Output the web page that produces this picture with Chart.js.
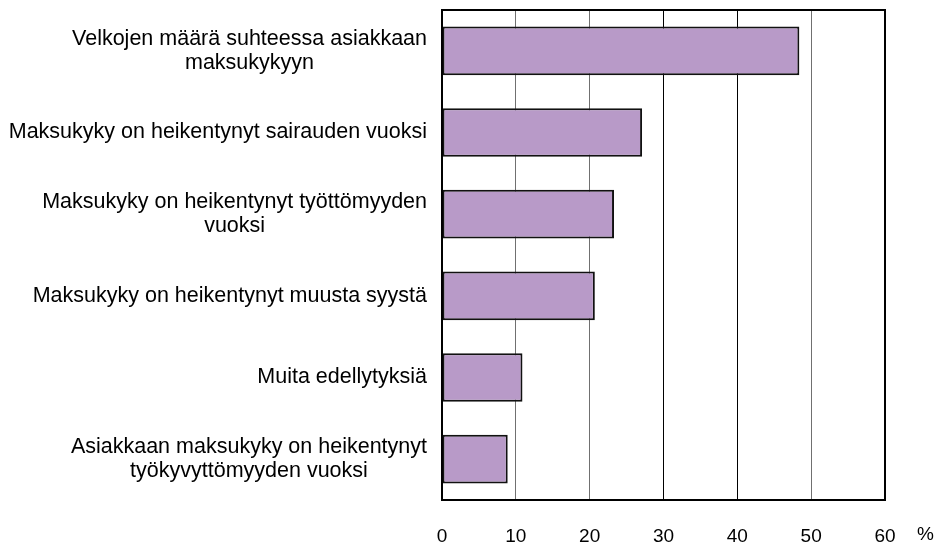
<!DOCTYPE html>
<html>
<head>
<meta charset="utf-8">
<script src="https://cdn.jsdelivr.net/npm/chart.js@4/dist/chart.umd.min.js"></script>
<style>
html,body{margin:0;padding:0;background:#fff;}
#wrap{width:937px;height:544px;position:relative;}
</style>
</head>
<body>
<div id="wrap"><canvas id="c" width="937" height="544"></canvas></div>
<script>
const categories = [
  ["Velkojen määrä suhteessa asiakkaan", "maksukykyyn"],
  ["Maksukyky on heikentynyt sairauden vuoksi"],
  ["Maksukyky on heikentynyt työttömyyden", "vuoksi"],
  ["Maksukyky on heikentynyt muusta syystä"],
  ["Muita edellytyksiä"],
  ["Asiakkaan maksukyky on heikentynyt", "työkyvyttömyyden vuoksi"]
];
const values = [48.4, 27.1, 23.3, 20.7, 10.9, 8.9];
const xTicks = [0, 10, 20, 30, 40, 50, 60];
const unitLabel = "%";

const FONT = '"Liberation Sans", Arial, sans-serif';
const LABEL_FS = 21.5;
const TICK_FS = 19;

const labelPlugin = {
  id: 'labels',
  afterDraw(chart) {
    const ctx = chart.ctx;
    const y = chart.scales.y;
    const x = chart.scales.x;
    const area = chart.chartArea;
    ctx.save();
    ctx.strokeStyle = '#000';
    ctx.lineWidth = 2;
    ctx.strokeRect(area.left, area.top, area.right - area.left, area.bottom - area.top);
    ctx.font = LABEL_FS + 'px ' + FONT;
    ctx.fillStyle = '#000';
    ctx.textBaseline = 'middle';
    const rightEdge = area.left - 15;
    const lh = 24;
    categories.forEach((lines, i) => {
      const cy = y.getPixelForValue(i);
      const widths = lines.map(l => ctx.measureText(l).width);
      const maxW = Math.max(...widths);
      const blockCenter = rightEdge - maxW / 2;
      ctx.textAlign = 'center';
      lines.forEach((l, j) => {
        const ly = cy + (j - (lines.length - 1) / 2) * lh;
        ctx.fillText(l, blockCenter, ly);
      });
    });
    ctx.font = TICK_FS + 'px ' + FONT;
    ctx.textAlign = 'left';
    ctx.fillText(unitLabel, x.getPixelForValue(60) + 32, 535);
    ctx.restore();
  }
};

const gridColors = ['#000', '#707070', '#707070', '#000', '#000', '#707070', '#000'];

new Chart(document.getElementById('c'), {
  type: 'bar',
  data: {
    labels: categories.map(c => c.join(' ')),
    datasets: [{
      data: values,
      backgroundColor: '#b89ac8',
      borderColor: '#111',
      borderWidth: 2,
      borderSkipped: false,
      barPercentage: 0.595,
      categoryPercentage: 1
    }]
  },
  options: {
    indexAxis: 'y',
    responsive: false,
    animation: false,
    devicePixelRatio: 1,
    layout: { padding: { left: 442, right: 52, top: 10, bottom: 0 } },
    plugins: { legend: { display: false }, tooltip: { enabled: false } },
    scales: {
      x: {
        min: 0, max: 60,
        afterBuildTicks(scale) { scale.ticks = xTicks.map(v => ({ value: v })); },
        afterFit(scale) { scale.height = 44; },
        grid: {
          drawTicks: false,
          color: ctx => gridColors[ctx.index % gridColors.length],
          lineWidth: 1
        },
        border: { display: false },
        ticks: {
          padding: 25,
          color: '#000',
          font: { family: FONT, size: TICK_FS },
          maxRotation: 0,
          autoSkip: false
        }
      },
      y: {
        afterFit(scale) { scale.width = 0; },
        grid: { display: false, drawTicks: false },
        border: { display: false },
        ticks: { display: false }
      }
    }
  },
  plugins: [labelPlugin]
});
</script>
</body>
</html>
